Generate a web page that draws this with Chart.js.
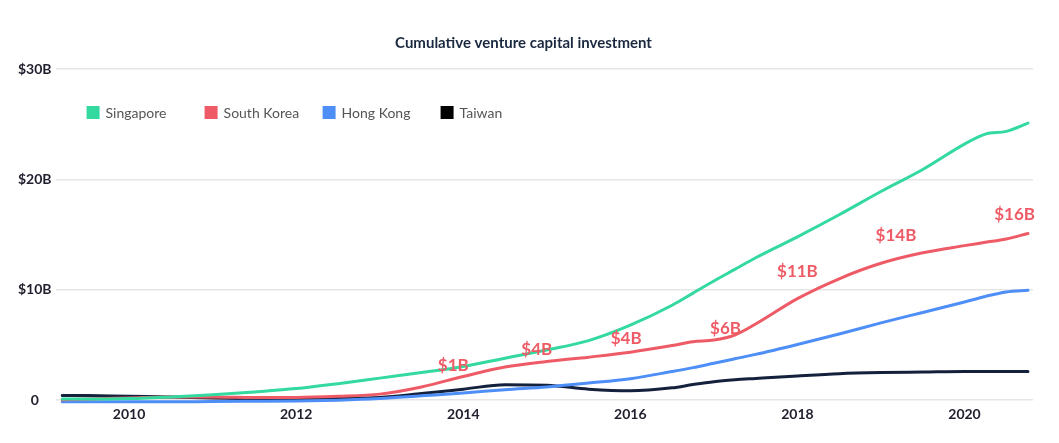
<!DOCTYPE html>
<html>
<head>
<meta charset="utf-8">
<script src="https://cdn.jsdelivr.net/npm/chart.js@4"></script>
<style>
  html, body { margin: 0; padding: 0; background: #ffffff; }
  #wrap { width: 1059px; height: 443px; }
</style>
</head>
<body>
<div id="wrap"><canvas id="c"></canvas></div>
<script>
// ---- data ----
const years = [2009.2, 2009.5, 2010, 2010.5, 2011, 2011.5, 2012, 2012.5, 2013, 2013.5, 2014, 2014.5, 2015, 2015.5, 2016, 2016.5, 2016.75, 2017, 2017.25, 2017.5, 2018, 2018.5, 2019, 2019.5, 2020, 2020.25, 2020.5, 2020.76];
const singapore = [0.1, 0.1, 0.15, 0.3, 0.5, 0.75, 1.05, 1.5, 2.0, 2.5, 3.05, 3.8, 4.55, 5.4, 6.8, 8.6, 9.7, 10.8, 11.85, 12.9, 14.8, 16.8, 18.9, 20.9, 23.2, 24.1, 24.35, 25.1];
const southKorea = [0.05, 0.1, 0.2, 0.3, 0.3, 0.25, 0.25, 0.35, 0.55, 1.2, 2.15, 3.0, 3.5, 3.9, 4.35, 4.95, 5.3, 5.45, 5.9, 6.9, 9.2, 11.0, 12.4, 13.35, 14.0, 14.3, 14.6, 15.1];
const hongKong = [-0.15, -0.15, -0.15, -0.15, -0.12, -0.1, -0.08, 0.0, 0.15, 0.4, 0.65, 0.95, 1.2, 1.55, 1.95, 2.6, 2.95, 3.35, 3.75, 4.15, 5.05, 6.0, 7.0, 7.95, 8.9, 9.4, 9.8, 9.95];
const taiwan = [0.43, 0.42, 0.35, 0.3, 0.2, 0.15, 0.15, 0.18, 0.25, 0.6, 1.0, 1.4, 1.35, 1.0, 0.85, 1.12, 1.42, 1.68, 1.85, 1.97, 2.2, 2.4, 2.5, 2.55, 2.6, 2.6, 2.6, 2.6];
const seriesNames = ['Singapore', 'South Korea', 'Hong Kong', 'Taiwan'];
const xTicks = [2010, 2012, 2014, 2016, 2018, 2020];
const yTicks = [0, 10, 20, 30];
const yTickLabels = ['0', '$10B', '$20B', '$30B'];
const labelYears = [2013.88, 2014.88, 2015.95, 2017.14, 2018.0, 2019.18, 2020.6];
const labelValues = [3.1, 4.6, 5.6, 6.5, 11.7, 14.9, 16.8];
const labelTexts = ['$1B', '$4B', '$4B', '$6B', '$11B', '$14B', '$16B'];

// ---- styles ----
const lineColors = ['#33D99F', '#EE5B66', '#4E8EF7', '#14213D'];
const legendColors = ['#33D99F', '#EE5B66', '#4E8EF7', '#000000'];
const FONT = 'Lato, "Noto Sans", sans-serif';

const toPts = (vals) => vals.map((v, i) => ({ x: years[i], y: v }));
const seriesValues = [singapore, southKorea, hongKong, taiwan];

const datasets = seriesValues.map((vals, i) => ({
  label: seriesNames[i],
  data: toPts(vals),
  borderColor: lineColors[i],
  backgroundColor: lineColors[i],
  borderWidth: 3,
  pointRadius: 0,
  cubicInterpolationMode: 'monotone',
  borderCapStyle: 'round',
  borderJoinStyle: 'round',
  clip: false,
  fill: false
}));

const legendPlugin = {
  id: 'customLegend',
  afterDraw(chart) {
    const ctx = chart.ctx;
    const area = chart.chartArea;
    ctx.save();
    ctx.font = '14px ' + FONT;
    ctx.textBaseline = 'middle';
    ctx.textAlign = 'left';
    chart.data.datasets.forEach((ds, i) => {
      const x = area.left + 31 + i * 118;
      const y = area.top + 44;
      ctx.fillStyle = legendColors[i];
      ctx.fillRect(x, y - 7, 13, 13);
      ctx.fillStyle = '#555555';
      ctx.fillText(ds.label, x + 19, y);
    });
    ctx.restore();
  }
};

const annotationPlugin = {
  id: 'valueLabels',
  afterDatasetsDraw(chart) {
    const ctx = chart.ctx;
    const xs = chart.scales.x, ys = chart.scales.y;
    ctx.save();
    ctx.font = 'bold 17px ' + FONT;
    ctx.fillStyle = '#EE5B66';
    ctx.textAlign = 'center';
    ctx.textBaseline = 'middle';
    labelTexts.forEach((t, i) => {
      ctx.fillText(t, xs.getPixelForValue(labelYears[i]), ys.getPixelForValue(labelValues[i]));
    });
    ctx.restore();
  }
};

new Chart(document.getElementById('c'), {
  type: 'line',
  data: { datasets },
  options: {
    responsive: true,
    maintainAspectRatio: false,
    animation: false,
    layout: { padding: { left: 14, right: 26, top: 0, bottom: 14 } },
    plugins: {
      legend: { display: false },
      tooltip: { enabled: false },
      title: {
        display: true,
        text: 'Cumulative venture capital investment',
        color: '#1B2940',
        font: { family: FONT, size: 15, weight: 'bold' },
        padding: { top: 34, bottom: 17 }
      }
    },
    scales: {
      x: {
        type: 'linear',
        min: 2009.12,
        max: 2020.82,
        grid: { display: false, drawTicks: false },
        border: { display: false },
        afterBuildTicks: (axis) => { axis.ticks = xTicks.map(v => ({ value: v })); },
        ticks: {
          padding: 6,
          color: '#1f1f2e',
          font: { family: FONT, size: 14, weight: 'bold' },
          callback: (v) => String(v),
          maxRotation: 0,
          autoSkip: false
        }
      },
      y: {
        min: 0,
        max: 30,
        grid: { color: '#e6e6e6', lineWidth: 1.5, drawTicks: false },
        border: { display: false },
        afterBuildTicks: (axis) => { axis.ticks = yTicks.map(v => ({ value: v })); },
        ticks: {
          padding: 4,
          crossAlign: 'center',
          color: '#1f1f2e',
          font: { family: FONT, size: 14, weight: 'bold' },
          callback: (v) => yTickLabels[yTicks.indexOf(v)]
        }
      }
    }
  },
  plugins: [legendPlugin, annotationPlugin]
});
</script>
</body>
</html>
